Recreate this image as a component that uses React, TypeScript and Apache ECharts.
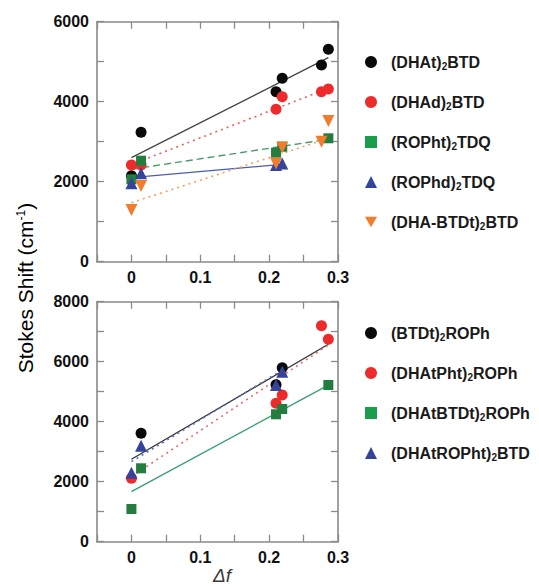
import React, { useEffect, useRef } from "react";
import * as echarts from "echarts";

// ---------- data ----------
const xTickLabels = ["0", "0.1", "0.2", "0.3"];

// top panel
const dhatBtdX = [0, 0.014, 0.21, 0.219, 0.276, 0.286];
const dhatBtdY = [2150, 3235, 4250, 4585, 4918, 5310];
const dhadBtdX = [0, 0.014, 0.21, 0.219, 0.276, 0.286];
const dhadBtdY = [2417, 2420, 3810, 4125, 4250, 4317];
const rophtTdqX = [0, 0.014, 0.21, 0.219, 0.286];
const rophtTdqY = [2060, 2525, 2725, 2875, 3085];
const rophdTdqX = [0, 0.014, 0.21, 0.219];
const rophdTdqY = [1960, 2210, 2417, 2458];
const dhaBtdtBtdX = [0, 0.014, 0.21, 0.219, 0.276, 0.286];
const dhaBtdtBtdY = [1292, 1892, 2458, 2858, 3000, 3517];

// top panel fit lines [x0, x1], [y0, y1]
const fitDhatBtd = { x: [0, 0.286], y: [2600, 5100] };
const fitDhadBtd = { x: [0, 0.286], y: [2430, 4333] };
const fitRophtTdq = { x: [0, 0.286], y: [2310, 3060] };
const fitRophdTdq = { x: [0, 0.219], y: [2100, 2433] };
const fitDhaBtdtBtd = { x: [0, 0.286], y: [1475, 3083] };

// bottom panel
const btdtRophX = [0.014, 0.21, 0.219];
const btdtRophY = [3613, 5230, 5800];
const dhatphtRophX = [0, 0.21, 0.219, 0.276, 0.286];
const dhatphtRophY = [2113, 4613, 4890, 7200, 6747];
const dhatbtdtRophX = [0, 0.014, 0.21, 0.219, 0.286];
const dhatbtdtRophY = [1090, 2447, 4247, 4423, 5223];
const dhatrophtBtdX = [0, 0.014, 0.21, 0.219];
const dhatrophtBtdY = [2300, 3200, 5223, 5667];

const fitBtdtRoph = { x: [0, 0.286], y: [2747, 6580] };
const fitDhatphtRoph = { x: [0, 0.286], y: [2167, 6557] };
const fitDhatbtdtRoph = { x: [0, 0.286], y: [1667, 5223] };
const fitDhatrophtBtd = { x: [0, 0.219], y: [2667, 5723] };

const topNames = ["(DHAt)2BTD", "(DHAd)2BTD", "(ROPht)2TDQ", "(ROPhd)2TDQ", "(DHA-BTDt)2BTD"];
const bottomNames = ["(BTDt)2ROPh", "(DHAtPht)2ROPh", "(DHAtBTDt)2ROPh", "(DHAtROPht)2BTD"];

// ---------- styles ----------
const FONT = "'Liberation Sans', Arial, Helvetica, sans-serif";
const C_BLACK = "#0a0a0a";
const C_RED = "#ee2b2b";
const C_GREEN = "#237d3f";
const C_GREEN_LEG = "#1a9e4e";
const C_BLUE = "#33449a";
const C_ORANGE = "#f07c2c";
const DOWN_TRI = "path://M0,0L10,0L5,8.66Z";

const zip = (xs: number[], ys: number[]) => xs.map((x, i) => [x, ys[i]]);

export default function App() {
  const ref = useRef<HTMLDivElement>(null);

  useEffect(() => {
    if (!ref.current) return;
    const chart = echarts.init(ref.current, undefined, { renderer: "svg" });

    const frameLine = { lineStyle: { color: "#8a8a8a", width: 1.6 } };
    const tick = { inside: true, length: 7, lineStyle: { color: "#8a8a8a", width: 1.3 } };

    const xAxisBase = (gridIndex: number, pos: "bottom" | "top", labels: boolean) => ({
      type: "value",
      gridIndex,
      position: pos,
      min: -0.05,
      max: 0.3,
      interval: 0.05,
      axisLine: { show: true, onZero: false, ...frameLine },
      axisTick: tick,
      splitLine: { show: false },
      axisLabel: {
        show: labels,
        margin: 8,
        color: "#111",
        fontFamily: FONT,
        fontWeight: "bold",
        fontSize: 16,
        showMinLabel: true,
        showMaxLabel: true,
        formatter: (v: number) => {
          const k = Math.round(v * 100);
          if (k < 0 || k % 10 !== 0) return "";
          return xTickLabels[k / 10] ?? "";
        },
      },
    });

    const yAxisBase = (gridIndex: number, pos: "left" | "right", labels: boolean, max: number) => ({
      type: "value",
      gridIndex,
      position: pos,
      min: 0,
      max,
      interval: 1000,
      axisLine: { show: true, onZero: false, ...frameLine },
      axisTick: tick,
      splitLine: { show: false },
      axisLabel: {
        show: labels,
        margin: 8,
        color: "#111",
        fontFamily: FONT,
        fontWeight: "bold",
        fontSize: 16,
        formatter: (v: number) => (v % 2000 === 0 ? String(v) : ""),
      },
    });

    const scatter = (name: string, xs: number[], ys: number[], xi: number, yi: number, color: string, symbol: string, size: number) => ({
      type: "scatter",
      name,
      xAxisIndex: xi,
      yAxisIndex: yi,
      data: zip(xs, ys),
      symbol,
      symbolSize: size,
      itemStyle: { color, opacity: 1 },
      z: 3,
    });

    const fit = (f: { x: number[]; y: number[] }, xi: number, yi: number, color: string, type: any, width = 1.3) => ({
      type: "line",
      name: "fit",
      xAxisIndex: xi,
      yAxisIndex: yi,
      data: zip(f.x, f.y),
      showSymbol: false,
      symbol: "none",
      silent: true,
      lineStyle: { color, width, type },
      z: 2,
    });

    const legendFmt = (name: string) => {
      const i = name.indexOf(")2");
      return `{g| }{n|${name.slice(0, i + 1)}}{s|2}{n|${name.slice(i + 2)}}`;
    };
    const legendText = {
      fontFamily: FONT,
      fontWeight: "bold",
      fontSize: 16,
      color: "#1a1a1a",
      rich: {
        g: { width: 9 },
        n: { fontFamily: FONT, fontWeight: "bold", fontSize: 16, color: "#1a1a1a" },
        s: { fontFamily: FONT, fontWeight: "bold", fontSize: 10, color: "#1a1a1a", padding: [9, 0, 0, 0] },
      },
    };

    const option: any = {
      animation: false,
      backgroundColor: "#ffffff",
      grid: [
        { left: 97, top: 21.7, width: 241, height: 240, containLabel: false },
        { left: 97, top: 301.7, width: 241, height: 240, containLabel: false },
      ],
      xAxis: [
        xAxisBase(0, "bottom", true),
        xAxisBase(0, "top", false),
        xAxisBase(1, "bottom", true),
        xAxisBase(1, "top", false),
      ],
      yAxis: [
        yAxisBase(0, "left", true, 6000),
        yAxisBase(0, "right", false, 6000),
        yAxisBase(1, "left", true, 8000),
        yAxisBase(1, "right", false, 8000),
      ],
      legend: [
        {
          orient: "vertical",
          left: 360,
          top: 49,
          itemWidth: 12,
          itemHeight: 12,
          itemGap: 22.5,
          selectedMode: false,
          formatter: legendFmt,
          textStyle: legendText,
          data: [
            { name: topNames[0], icon: "circle", itemStyle: { color: C_BLACK } },
            { name: topNames[1], icon: "circle", itemStyle: { color: C_RED } },
            { name: topNames[2], icon: "rect", itemStyle: { color: C_GREEN_LEG } },
            { name: topNames[3], icon: "triangle", itemStyle: { color: C_BLUE } },
            { name: topNames[4], icon: DOWN_TRI, itemStyle: { color: C_ORANGE } },
          ],
        },
        {
          orient: "vertical",
          left: 360,
          top: 320,
          itemWidth: 12,
          itemHeight: 12,
          itemGap: 22.5,
          selectedMode: false,
          formatter: legendFmt,
          textStyle: legendText,
          data: [
            { name: bottomNames[0], icon: "circle", itemStyle: { color: C_BLACK } },
            { name: bottomNames[1], icon: "circle", itemStyle: { color: C_RED } },
            { name: bottomNames[2], icon: "rect", itemStyle: { color: C_GREEN_LEG } },
            { name: bottomNames[3], icon: "triangle", itemStyle: { color: C_BLUE } },
          ],
        },
      ],
      graphic: [
        {
          type: "text",
          x: 25,
          y: 288,
          rotation: Math.PI / 2,
          style: {
            text: "{a|Stokes Shift (cm}{b|-1}{a|)}",
            align: "center",
            verticalAlign: "middle",
            rich: {
              a: { fontFamily: FONT, fontSize: 21, color: "#3a3a3a" },
              b: { fontFamily: FONT, fontSize: 12, color: "#3a3a3a", padding: [0, 0, 9, 0] },
            },
          },
        },
        {
          type: "text",
          x: 222,
          y: 585,
          style: {
            text: "Δf",
            align: "center",
            verticalAlign: "bottom",
            fontFamily: FONT,
            fontStyle: "italic",
            fontSize: 19,
            fill: "#3a3a3a",
          },
        },
      ],
      series: [
        // top fits
        fit(fitDhatBtd, 0, 0, "#444444", "solid"),
        fit(fitDhadBtd, 0, 0, "#e8605a", [2, 4], 1.6),
        fit(fitRophtTdq, 0, 0, "#4a9a6a", [7, 4], 1.4),
        fit(fitRophdTdq, 0, 0, "#4a5cb0", "solid"),
        fit(fitDhaBtdtBtd, 0, 0, "#f0a060", [2, 4], 1.6),
        // top points
        scatter(topNames[0], dhatBtdX, dhatBtdY, 0, 0, C_BLACK, "circle", 11),
        scatter(topNames[1], dhadBtdX, dhadBtdY, 0, 0, C_RED, "circle", 11),
        scatter(topNames[2], rophtTdqX, rophtTdqY, 0, 0, C_GREEN, "rect", 10),
        scatter(topNames[3], rophdTdqX, rophdTdqY, 0, 0, C_BLUE, "triangle", 12),
        scatter(topNames[4], dhaBtdtBtdX, dhaBtdtBtdY, 0, 0, C_ORANGE, DOWN_TRI, 12),
        // bottom fits
        fit(fitBtdtRoph, 2, 2, "#333333", "solid"),
        fit(fitDhatphtRoph, 2, 2, "#e86a6a", [2, 4], 1.6),
        fit(fitDhatbtdtRoph, 2, 2, "#3aa070", "solid", 1.4),
        fit(fitDhatrophtBtd, 2, 2, "#5a70c0", [2, 4], 1.6),
        // bottom points
        scatter(bottomNames[0], btdtRophX, btdtRophY, 2, 2, C_BLACK, "circle", 11),
        scatter(bottomNames[1], dhatphtRophX, dhatphtRophY, 2, 2, C_RED, "circle", 11),
        scatter(bottomNames[2], dhatbtdtRophX, dhatbtdtRophY, 2, 2, C_GREEN, "rect", 10),
        scatter(bottomNames[3], dhatrophtBtdX, dhatrophtBtdY, 2, 2, C_BLUE, "triangle", 12),
      ],
    };

    chart.setOption(option);
    return () => chart.dispose();
  }, []);

  return (
    <div
      ref={ref}
      style={{ position: "absolute", left: 0, top: 0, width: 539, height: 586, background: "#fff" }}
    />
  );
}
